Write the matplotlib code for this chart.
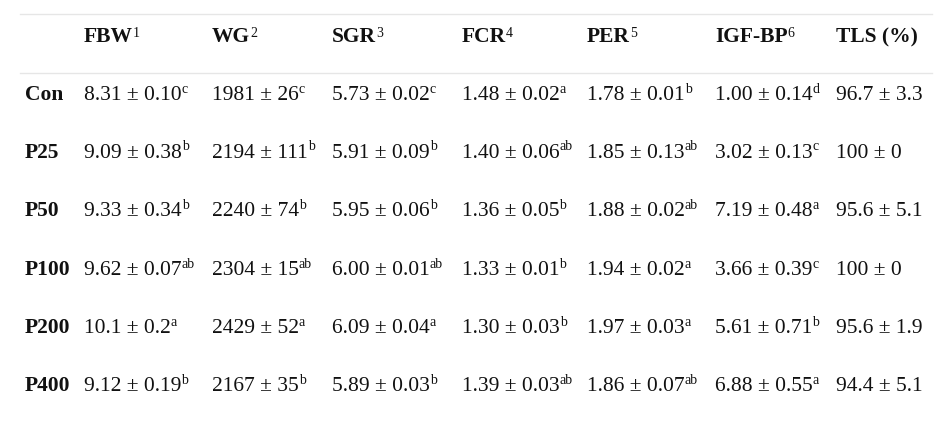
import matplotlib
matplotlib.use("Agg")
import matplotlib.pyplot as plt

# table content
groups = ["Con", "P25", "P50", "P100", "P200", "P400"]
headers = ["FBW", "WG", "SGR", "FCR", "PER", "IGF-BP", "TLS (%)"]
header_notes = ["1", "2", "3", "4", "5", "6", ""]

fbw = ["8.31 ± 0.10", "9.09 ± 0.38", "9.33 ± 0.34", "9.62 ± 0.07", "10.1 ± 0.2", "9.12 ± 0.19"]
fbw_sig = ["c", "b", "b", "ab", "a", "b"]
wg = ["1981 ± 26", "2194 ± 111", "2240 ± 74", "2304 ± 15", "2429 ± 52", "2167 ± 35"]
wg_sig = ["c", "b", "b", "ab", "a", "b"]
sgr = ["5.73 ± 0.02", "5.91 ± 0.09", "5.95 ± 0.06", "6.00 ± 0.01", "6.09 ± 0.04", "5.89 ± 0.03"]
sgr_sig = ["c", "b", "b", "ab", "a", "b"]
fcr = ["1.48 ± 0.02", "1.40 ± 0.06", "1.36 ± 0.05", "1.33 ± 0.01", "1.30 ± 0.03", "1.39 ± 0.03"]
fcr_sig = ["a", "ab", "b", "b", "b", "ab"]
per = ["1.78 ± 0.01", "1.85 ± 0.13", "1.88 ± 0.02", "1.94 ± 0.02", "1.97 ± 0.03", "1.86 ± 0.07"]
per_sig = ["b", "ab", "ab", "a", "a", "ab"]
igf = ["1.00 ± 0.14", "3.02 ± 0.13", "7.19 ± 0.48", "3.66 ± 0.39", "5.61 ± 0.71", "6.88 ± 0.55"]
igf_sig = ["d", "c", "a", "c", "b", "a"]
tls = ["96.7 ± 3.3", "100 ± 0", "95.6 ± 5.1", "100 ± 0", "95.6 ± 1.9", "94.4 ± 5.1"]
tls_sig = ["", "", "", "", "", ""]

columns = [(fbw, fbw_sig), (wg, wg_sig), (sgr, sgr_sig), (fcr, fcr_sig),
           (per, per_sig), (igf, igf_sig), (tls, tls_sig)]

plt.rcParams['font.family'] = ['Liberation Serif', 'DejaVu Serif']

W, H = 948, 428
fig = plt.figure(figsize=(W / 100, H / 100), dpi=100)
ax = fig.add_axes([0, 0, 1, 1])
ax.set_xlim(0, W)
ax.set_ylim(H, 0)
ax.axis('off')

fs = 15.5
bold_fs = 15.5
sup_fs = 10
ink = '#111111'
label_x = 25
col_x = [84, 212, 332, 462, 587, 715, 836]
header_base = 42
row_base = [100, 158, 216, 275, 333, 391]

# rules
ax.plot([20, 932], [14, 14], color='#e6e6e6', lw=1)
ax.plot([20, 932], [73, 73], color='#e6e6e6', lw=1)

pending = []  # (text artist, superscript, baseline, lift)

for j, h in enumerate(headers):
    t = ax.text(col_x[j], header_base, h, fontsize=bold_fs, fontweight='bold',
                ha='left', va='baseline', color=ink)
    if header_notes[j]:
        pending.append((t, header_notes[j], header_base, 5))

for i, g in enumerate(groups):
    ax.text(label_x, row_base[i], g, fontsize=bold_fs, fontweight='bold',
            ha='left', va='baseline', color=ink)
    for j, (vals, sigs) in enumerate(columns):
        t = ax.text(col_x[j], row_base[i], vals[i], fontsize=fs,
                    ha='left', va='baseline', color=ink)
        if sigs[i]:
            pending.append((t, sigs[i], row_base[i], 7.5))

# superscripts go right after the measured end of each text
fig.canvas.draw()
renderer = fig.canvas.get_renderer()
inv = ax.transData.inverted()
for t, s, base, lift in pending:
    bb = t.get_window_extent(renderer)
    x_end = inv.transform((bb.x1, bb.y0))[0]
    ax.text(x_end, base - lift, s, fontsize=sup_fs,
            ha='left', va='baseline', color=ink)

fig.savefig("out.png", dpi=100, facecolor='white')
